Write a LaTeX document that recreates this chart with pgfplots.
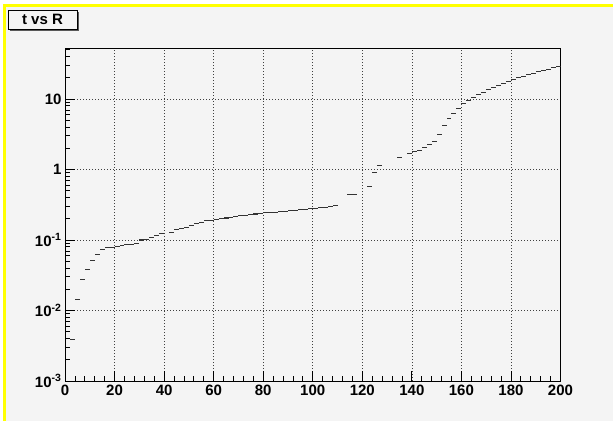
\documentclass[border=0pt]{standalone}
\usepackage{fontspec}
\setmainfont{Liberation Sans}
\usepackage{pgfplots}
\pgfplotsset{compat=1.18}
\definecolor{bg}{RGB}{244,244,244}
\definecolor{ylw}{RGB}{255,255,0}
\begin{document}
\begin{tikzpicture}
\fill[white] (0pt,0pt) rectangle (613pt,421pt);
\fill[bg] (5pt,0pt) rectangle (613pt,415pt);
\fill[ylw] (3pt,0pt) rectangle (6pt,417pt);
\fill[ylw] (3pt,414pt) rectangle (613pt,417pt);
\begin{axis}[
  at={(65pt,40pt)}, anchor=south west,
  scale only axis, width=495.5pt, height=332.5pt,
  xmin=0, xmax=200, ymode=log, ymin=1e-3, ymax=52,
  xtick={0,20,...,200}, minor x tick num=4,
  ytick={1e-3,1e-2,1e-1,1,10},
  yticklabels={10\textsuperscript{-3},10\textsuperscript{-2},10\textsuperscript{-1},1,10},
  minor ytick={2e-3,3e-3,4e-3,5e-3,6e-3,7e-3,8e-3,9e-3,2e-2,3e-2,4e-2,5e-2,6e-2,7e-2,8e-2,9e-2,0.2,0.3,0.4,0.5,0.6,0.7,0.8,0.9,2,3,4,5,6,7,8,9,20,30,40,50},
  tick align=inside, xtick pos=bottom, ytick pos=left,
  major tick length=10pt, minor tick length=5pt,
  grid=major, major grid style={dash pattern=on 0.9pt off 2.1pt, black!75, line width=0.7pt},
  axis line style={black, line width=0.8pt},
  tick style={black, line width=0.8pt},
  ticklabel style={font=\bfseries\fontsize{15}{15}\selectfont},
  /pgf/number format/assume math mode=true,
  axis background/.style={fill=bg},
]
\addplot[draw=none, mark=none, forget plot,
  error bars/.cd, x dir=both, x fixed=1, error mark=none,
  error bar style={draw=black!80, line width=1.1pt, solid}]
table[row sep=\\] {
x y\\
3 0.0039\\
5 0.0142\\
7 0.0275\\
9 0.038\\
11 0.051\\
13 0.062\\
15 0.074\\
17 0.078\\
19 0.079\\
21 0.080\\
23 0.0835\\
25 0.0855\\
27 0.0860\\
29 0.090\\
31 0.100\\
33 0.101\\
35 0.107\\
37 0.115\\
39 0.125\\
43 0.129\\
45 0.142\\
47 0.147\\
49 0.152\\
51 0.159\\
53 0.171\\
55 0.177\\
57 0.187\\
59 0.190\\
61 0.193\\
63 0.202\\
65 0.205\\
67 0.207\\
69 0.213\\
71 0.221\\
73 0.224\\
75 0.228\\
77 0.234\\
79 0.236\\
81 0.242\\
83 0.244\\
85 0.248\\
87 0.255\\
89 0.257\\
91 0.263\\
93 0.265\\
95 0.272\\
97 0.274\\
99 0.281\\
101 0.283\\
103 0.291\\
105 0.293\\
107 0.302\\
109 0.312\\
115 0.438\\
117 0.438\\
123 0.574\\
125 0.916\\
127 1.14\\
135 1.49\\
139 1.70\\
141 1.78\\
143 1.88\\
145 2.07\\
147 2.26\\
149 2.50\\
151 3.10\\
153 4.25\\
155 5.24\\
157 6.30\\
159 7.40\\
161 8.55\\
163 9.52\\
165 10.4\\
167 11.5\\
169 12.5\\
171 13.5\\
173 14.4\\
175 15.4\\
177 16.4\\
179 17.6\\
181 18.7\\
183 20.0\\
185 21.1\\
187 22.3\\
189 23.2\\
191 24.3\\
193 25.4\\
195 26.5\\
197 27.7\\
199 28.9\\
};
\end{axis}
\fill[black!65] (10pt,390pt) rectangle (79pt,409pt);
\draw[black, line width=0.8pt, fill=bg] (8pt,392pt) rectangle (77pt,411pt);
\node[font=\bfseries\fontsize{15}{15}\selectfont, inner sep=0pt] at (42.5pt,401.5pt) {t vs R};
\end{tikzpicture}
\end{document}
